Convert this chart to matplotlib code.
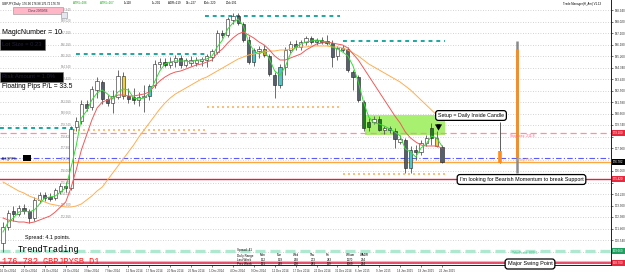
import matplotlib
matplotlib.use("Agg")
import matplotlib.pyplot as plt
import matplotlib.transforms as mtransforms
from matplotlib.patches import Rectangle
import numpy as np

plt.rcParams['font.family'] = ['Liberation Sans', 'DejaVu Sans']

# ---------------- data ----------------
opens = [170.30,171.58,172.86,172.62,173.10,172.86,172.30,173.74,174.14,173.98,
         173.90,174.46,174.86,174.70,179.58,180.06,181.42,181.18,182.54,183.18,
         181.82,181.50,181.98,183.66,182.06,181.98,181.74,181.98,182.06,182.94,
         184.62,184.78,184.54,184.78,185.10,184.54,184.70,184.70,184.86,184.94,
         185.18,185.58,187.10,186.94,188.14,188.46,187.82,186.54,184.78,185.66,
         185.82,185.26,183.74,182.94,184.38,185.74,186.22,185.98,186.38,186.70,
         186.38,186.54,186.46,186.30,185.26,185.90,185.82,183.98,183.58,181.58,
         179.58,179.98,180.22,179.34,179.50,179.26,178.38,178.54,176.30,177.74,
         177.58,178.30,178.70,178.70,177.98]
highs = [171.98,172.94,173.26,173.34,173.42,173.02,173.98,174.38,174.38,174.30,
         174.70,175.10,175.18,179.66,180.38,181.74,181.74,182.86,183.58,183.34,
         182.14,182.54,184.14,183.98,182.70,182.70,182.38,182.94,183.02,184.94,
         185.10,185.10,185.18,185.34,185.34,185.10,185.26,185.18,185.18,185.42,
         185.82,187.34,187.34,188.38,188.70,188.70,187.98,186.86,185.90,186.06,
         186.14,185.42,183.98,184.62,185.98,186.46,186.54,186.54,186.86,186.86,
         186.70,186.78,186.94,186.54,186.06,186.14,185.98,184.14,183.74,181.74,
         180.30,180.46,180.46,179.66,179.66,179.50,178.94,178.70,178.06,178.14,
         178.54,178.94,179.90,179.26,178.14]
lows = [169.58,171.34,172.06,172.46,172.62,171.90,172.06,173.50,173.66,173.66,
        173.74,174.22,174.38,174.54,179.26,179.82,180.86,180.94,181.90,181.42,
        181.26,180.70,181.82,181.82,181.50,181.42,181.26,180.78,181.74,182.70,
        184.30,184.38,184.30,184.38,184.30,184.38,184.46,184.46,184.46,184.38,
        184.86,185.42,186.70,186.78,187.82,187.74,186.38,184.62,184.46,185.10,
        185.18,183.66,181.90,182.70,183.74,185.50,185.74,185.74,186.14,186.22,
        186.14,186.22,186.14,184.38,184.94,185.58,183.98,182.54,181.58,179.26,
        179.26,179.82,179.26,179.02,179.10,177.90,178.22,175.90,175.90,176.94,
        177.34,178.06,178.14,177.98,176.70]
closes = [171.58,172.70,172.62,173.10,172.86,172.30,173.74,174.14,173.90,173.82,
          174.54,174.86,174.70,179.42,180.06,181.42,181.10,182.62,183.26,181.82,
          181.50,182.06,183.66,182.06,181.82,181.74,181.98,182.06,182.86,184.62,
          184.78,184.54,184.78,185.10,184.54,184.94,184.94,184.94,185.02,185.26,
          185.66,187.10,186.94,188.22,188.46,187.90,186.54,184.78,185.74,185.82,
          185.34,183.82,182.94,184.38,185.74,186.22,185.98,186.38,186.70,186.38,
          186.54,186.38,186.30,185.18,185.90,185.74,184.14,183.58,181.74,179.50,
          179.98,180.22,179.34,179.50,179.34,178.62,178.62,176.30,177.74,177.58,
          178.30,178.70,179.50,178.06,176.78]
# highlighted candles (indicator colouring): g=dark green, t=teal, y=yellow, o=orange
highlight = {23: 'y', 25: 'g', 28: 't', 31: 'g', 48: 't', 50: 'o', 53: 't', 60: 't',
             65: 't', 69: 'g', 70: 'g', 72: 'g', 74: 't', 78: 't', 82: 'g', 83: 'y'}

ma_fast = [171.18,171.98,172.30,172.78,172.86,172.78,172.94,173.42,173.90,173.98,
           174.06,174.38,174.70,176.30,178.06,180.30,180.86,181.74,182.30,182.54,
           182.22,181.82,182.38,182.62,182.54,181.90,181.82,181.90,182.30,183.18,
           184.06,184.62,184.78,184.86,184.86,184.86,184.78,184.94,184.94,185.02,
           185.26,185.98,186.54,187.42,187.90,188.22,187.66,186.38,185.66,185.42,
           185.66,185.02,184.06,183.74,184.38,185.42,185.98,186.22,186.38,186.46,
           186.54,186.46,186.38,185.98,185.82,185.58,185.26,184.46,183.18,181.58,
           180.38,179.90,179.82,179.66,179.42,179.18,178.86,177.82,177.58,177.18,
           177.90,178.22,178.86,178.70,178.06]
ma_mid = [172.30,172.14,172.06,171.98,171.98,171.90,171.98,172.14,172.30,172.46,
          172.78,173.18,173.58,174.70,176.14,177.74,178.94,180.14,181.10,181.58,
          181.74,181.90,182.14,182.14,182.06,182.06,182.14,182.22,182.38,182.86,
          183.26,183.58,183.82,183.98,184.06,184.22,184.38,184.54,184.62,184.78,
          184.94,185.50,185.82,186.30,186.70,187.02,187.18,186.94,186.70,186.38,
          186.14,185.74,185.26,184.94,184.94,185.10,185.26,185.42,185.74,185.98,
          186.22,186.30,186.38,186.30,186.22,186.14,185.90,185.42,184.94,184.30,
          183.66,183.02,182.38,181.74,181.10,180.46,179.90,179.18,178.70,178.38,
          178.14,178.06,178.06,178.06,177.90]
ma_slow = [175.18,174.94,174.70,174.46,174.30,174.06,173.90,173.74,173.58,173.42,
           173.34,173.26,173.18,173.18,173.26,173.42,173.74,174.06,174.46,174.78,
           175.34,175.90,176.46,177.02,177.58,178.14,178.78,179.34,179.90,180.46,
           181.02,181.50,181.90,182.22,182.46,182.70,182.94,183.18,183.42,183.58,
           183.82,184.06,184.30,184.54,184.78,185.02,185.18,185.34,185.42,185.50,
           185.58,185.66,185.66,185.74,185.74,185.82,185.90,185.98,185.98,186.06,
           186.06,186.06,186.06,185.98,185.98,185.90,185.74,185.50,185.26,184.94,
           184.62,184.38,184.14,183.90,183.66,183.42,183.18,182.86,182.54,182.14,
           181.74,181.34,180.94,180.54,180.14]

price_ticks = [188.94,188.02,187.10,186.18,185.26,184.34,183.42,182.50,181.58,180.66,
               179.74,178.82,177.90,176.98,176.06,175.14,174.22,173.30,172.38,171.46,
               170.54,169.62,168.70]
date_bars = list(range(0, 85, 4))
date_labels = ["16 Oct 2014", "20 Oct 2014", "24 Oct 2014", "29 Oct 2014", "3 Nov 2014",
               "7 Nov 2014", "12 Nov 2014", "17 Nov 2014", "20 Nov 2014", "25 Nov 2014",
               "1 Dec 2014", "4 Dec 2014", "9 Dec 2014", "12 Dec 2014", "17 Dec 2014",
               "22 Dec 2014", "31 Dec 2014", "6 Jan 2015", "9 Jan 2015", "14 Jan 2015",
               "19 Jan 2015", "22 Jan 2015"]

# period high / low segments: (price, first bar, last bar)
teal_levels = [(179.50, -0.6, 13.4), (185.42, 14.0, 38.7), (188.46, 38.7, 64.5), (186.46, 65.0, 84.6)]
orange_levels = [(179.34, 13.4, 38.7), (181.18, 39.0, 64.5), (175.82, 65.0, 84.6)]

stop_loss = 179.10
ask_level = 177.10
entry_price = 176.782
support = 175.42
take_profit = 169.66
swing_low = 168.70
zone_bars = (69.3, 84.6)
zone_prices = (178.94, 180.54)
# projected bars from the trade manager: (bar, low, high, body low, body high)
proj_bars = [(95.1, 176.70, 179.98, 176.70, 177.66), (98.4, 175.90, 186.46, 177.18, 185.82)]

# price tags on the right axis: (price, colour, text)
axis_tags = [(179.10, '#e8283c', '179.100'), (176.782, 'black', '176.782'),
             (175.42, '#e8283c', '175.420'), (169.66, '#1fa060', '169.660'),
             (168.70, '#e8283c', '168.700')]

range_days = ["Mon", "Tue", "Wed", "Thu", "Fri", "WSum", "WADR"]
last_week = ["152", "159", "268", "273", "243", "1170", "234"]
prev_week = ["121", "219", "208", "281", "119", "1069", "214"]

# ---------------- figure ----------------
W, H = 625, 277
def fx(x):
    return x / W
def fy(y):
    return 1 - y / H

fig = plt.figure(figsize=(6.25, 2.77), dpi=100)
fig.patch.set_facecolor('white')
ax = fig.add_axes([0, 12 / H, 611 / W, 265 / H])
ax.set_facecolor('white')
ax.set_xlim(-0.574, 116.36)
ax.set_ylim(168.54, 189.74)

for s in ['left', 'top']:
    ax.spines[s].set_visible(False)
for s in ['right', 'bottom']:
    ax.spines[s].set_color('#202020')
    ax.spines[s].set_linewidth(0.7)

tag_prices = [t[0] for t in axis_tags]
ax.yaxis.tick_right()
ax.set_yticks(price_ticks)
ax.set_yticklabels(["" if min(abs(t - p) for p in tag_prices) < 0.35 else "%.3f" % t
                    for t in price_ticks], fontsize=2.2, color='#303030')
ax.tick_params(axis='y', length=1.5, width=0.4, pad=1)
ax.set_xticks(date_bars)
ax.set_xticklabels([])
ax.tick_params(axis='x', length=1.5, width=0.4)

label_trans = mtransforms.blended_transform_factory(fig.transFigure, ax.transData)
for t in price_ticks:
    ax.axhline(t, color='#c4c4c4', lw=0.6, ls=(0, (1, 2)), zorder=0)
    if t > 172.0 and not (181.9 < t < 183.0):
        ax.text(fx(61), t, "%.3f" % t, fontsize=2.1, color='#8a8a8a', va='center',
                ha='left', zorder=1, transform=label_trans)

# zone
ax.add_patch(Rectangle((zone_bars[0], zone_prices[0]), zone_bars[1] - zone_bars[0],
                       zone_prices[1] - zone_prices[0], fc='#a8f070', ec='none', zorder=1))

# level segments
for p, a, b in teal_levels:
    ax.plot([a, b], [p, p], color='#1aa8a0', lw=1.4, ls=(0, (2, 2)), zorder=2)
for p, a, b in orange_levels:
    ax.plot([a, b], [p, p], color='#ffb060', lw=1.2, ls=(0, (1.2, 1.8)), zorder=2)

# full-width lines
ax.axhline(stop_loss, color='#ff8fa0', lw=0.9, ls=(0, (5, 3)), zorder=2)
ax.axhline(ask_level, color='#5a5aff', lw=0.8, ls=(0, (5, 2, 1, 2)), zorder=2)
ax.axhline(entry_price, color='#ffa640', lw=1.0, zorder=2)
ax.axhline(support, color='#e02040', lw=1.0, zorder=2)
ax.axhline(take_profit, color='#aee8d0', lw=2.4, ls=(0, (3, 1.5)), zorder=2)
ax.axhline(swing_low + 0.17, color='#f4b0bc', lw=0.8, zorder=2)
ax.axhline(swing_low, color='#e03050', lw=1.2, zorder=2)

# candles
colmap = {'g': '#1e7a1e', 't': '#48c8c8', 'y': '#f0d040', 'o': '#f09020'}
idx = np.arange(len(closes))
o = np.array(opens); c = np.array(closes)
bodies_bottom = np.minimum(o, c)
bodies_h = np.maximum(np.abs(c - o), 0.03)
cols = []
for i in idx:
    if i in highlight:
        cols.append(colmap[highlight[i]])
    elif c[i] >= o[i]:
        cols.append('white')
    else:
        cols.append('#56606c')
ax.vlines(idx, lows, highs, color='#555555', lw=0.6, zorder=3)
ax.bar(idx, bodies_h, bottom=bodies_bottom, width=0.62, color=cols,
       edgecolor='#202020', linewidth=0.4, zorder=4)

# moving averages
ax.plot(idx, ma_slow, color='#ffae50', lw=0.7, zorder=5)
ax.plot(idx, ma_mid, color='#f05a5a', lw=0.7, zorder=5)
ax.plot(idx, ma_fast, color='#33dd33', lw=0.7, zorder=5)

# projected bars
b, lo, hi, blo, bhi = proj_bars[0]
ax.vlines(b, lo, hi, color='#202020', lw=0.5, zorder=4)
ax.vlines(b, blo, bhi, color='#ff8c1a', lw=2.6, zorder=4)
b, lo, hi, blo, bhi = proj_bars[1]
ax.vlines(b, lo, hi, color='#8a8a8a', lw=1.8, zorder=4)
ax.vlines(b, blo, bhi, color='#ff8c1a', lw=1.9, zorder=4)

# date labels
trans = mtransforms.blended_transform_factory(ax.transData, fig.transFigure)
for bar, lab in zip(date_bars, date_labels):
    ax.text(bar - 0.55, fy(271), lab, fontsize=2.1, color='#303030', ha='left',
            va='center', transform=trans, clip_on=False)

# level labels inside chart
fig.text(fx(510), fy(135.5), "StopLoss: 211.8", fontsize=2.4, color='#ff6080', va='center')
fig.text(fx(517), fy(160.5), "Entry Price", fontsize=2.4, color='#ff9a30', va='center')
fig.text(fx(512), fy(252.5), "TakeProfit: 809.5", fontsize=2.4, color='#40c080', va='center')

# price boxes on right axis
tag_trans = mtransforms.blended_transform_factory(fig.transFigure, ax.transData)
for p, colr, txt in axis_tags:
    ax.add_patch(Rectangle((fx(611.5), p - 0.24), 13.5 / W, 0.48, transform=tag_trans,
                           fc=colr, ec='none', zorder=10, clip_on=False))
    ax.text(fx(618.2), p, txt, fontsize=2.1, color='white', ha='center', va='center',
            zorder=11, transform=tag_trans, clip_on=False)

# header
fig.text(fx(2), fy(3.5), "GBPJPY,Daily  176.90 176.98 176.72 176.78", fontsize=2.1, va='center')
fig.text(fx(73), fy(3.5), "ATR5=186", fontsize=2.1, color='#10a010', va='center')
fig.text(fx(100), fy(3.5), "ATR5=167", fontsize=2.1, color='#10a010', va='center')
for xx, t in [(124, "1=118"), (152, "1=-201"), (168, "ADR=219"), (186, "5d=-227"),
              (204, "10d=-220"), (226, "20d=191")]:
    fig.text(fx(xx), fy(3.5), t, fontsize=2.1, va='center')
fig.text(fx(563), fy(4), "Trade Manager(H_Am) V1.13", fontsize=2.1, va='center')

# buttons / panels on the left
fig.patches.append(Rectangle((fx(13), fy(14)), 50 / W, 7 / H, transform=fig.transFigure,
                             fc='#ffb6c6', ec='#909090', lw=0.4, zorder=10))
fig.text(fx(38), fy(10.5), "Close 20/00/06", fontsize=2.1, color='#503050', ha='center',
         va='center', zorder=11)
fig.patches.append(Rectangle((fx(61), fy(18)), 6 / W, 6 / H, transform=fig.transFigure,
                             fc='#e4e6f2', ec='#909090', lw=0.4, zorder=10))
fig.text(fx(2), fy(32), "MagicNumber = 10", fontsize=5.0, va='center')
fig.patches.append(Rectangle((fx(0), fy(50)), 45 / W, 11 / H, transform=fig.transFigure,
                             fc='black', ec='#707070', lw=0.4, zorder=10))
fig.text(fx(2), fy(44.5), "Lot Size = 0.23", fontsize=4.2, color='#20203a', va='center', zorder=11)
fig.patches.append(Rectangle((fx(0), fy(82)), 63 / W, 10 / H, transform=fig.transFigure,
                             fc='black', ec='#707070', lw=0.4, zorder=10))
fig.text(fx(2), fy(77), "Risk Amount = 1.0%", fontsize=4.2, color='#20203a', va='center', zorder=11)
fig.text(fx(2), fy(87), "Floating Pips P/L = 33.5", fontsize=4.8, va='center')
fig.text(fx(1), fy(158), "-ASK@PIPS-", fontsize=2.0, va='center')
fig.patches.append(Rectangle((fx(23), fy(161)), 8 / W, 6 / H, transform=fig.transFigure,
                             fc='black', ec='none', zorder=10))

# bottom-left texts
fig.text(fx(25), fy(238), "Spread: 4.1 points.", fontsize=3.9, va='center')
fig.text(fx(18), fy(249), "TrendTrading", fontsize=6.2, family='Liberation Mono', va='center')
fig.text(fx(2), fy(262), "176.782 GBPJPYSB D1", fontsize=6.2, family='Liberation Mono',
         color='#ff1a1a', va='center')

# daily range table
fig.text(fx(237), fy(250.5), "Spread: 41", fontsize=2.2, va='center')
fig.text(fx(237), fy(255.5), "Daily Range", fontsize=2.2, va='center')
fig.text(fx(237), fy(259.8), "Last Week", fontsize=2.2, va='center')
fig.text(fx(237), fy(264), "Prev Week", fontsize=2.2, va='center')
col_x = [260, 277, 293, 310, 326, 346, 360]
for xx, d, lw_, pw_ in zip(col_x, range_days, last_week, prev_week):
    fig.text(fx(xx), fy(255.5), d, fontsize=2.2, va='center')
    fig.text(fx(xx + 1), fy(259.8), lw_, fontsize=2.2, va='center')
    fig.text(fx(xx + 1), fy(264), pw_, fontsize=2.2, va='center')

# annotation boxes
box = dict(boxstyle='round,pad=0.45,rounding_size=0.5', fc='white', ec='black', lw=0.9)
fig.text(fx(471), fy(115.5), "Setup = Daily Inside Candle", fontsize=3.8, ha='center',
         va='center', bbox=box, zorder=12)
fig.text(fx(521.5), fy(179.5), "I'm looking for Bearish Momentum to break Support", fontsize=3.9,
         ha='center', va='center', bbox=box, zorder=12)
fig.text(fx(530), fy(264), "Major Swing Point", fontsize=4.0, ha='center', va='center',
         bbox=box, zorder=12)
ax.annotate('', xy=(fx(438.5), fy(133)), xytext=(fx(438.5), fy(121.5)),
            xycoords='figure fraction', textcoords='figure fraction',
            arrowprops=dict(arrowstyle='simple,head_width=0.9,head_length=0.8,tail_width=0.4',
                            fc='black', ec='black', lw=0.3, mutation_scale=5), zorder=12)

fig.savefig('out.png', dpi=100)
